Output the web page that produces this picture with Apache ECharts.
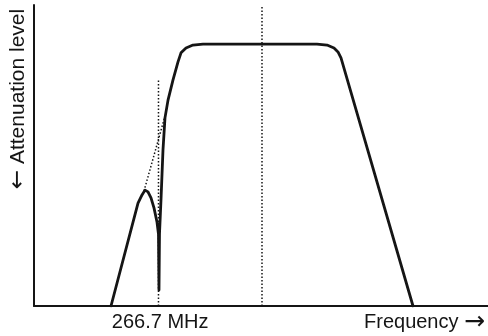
<!DOCTYPE html>
<html>
<head>
<meta charset="utf-8">
<script src="https://cdn.jsdelivr.net/npm/echarts@6/dist/echarts.min.js"></script>
<style>
html,body{margin:0;padding:0;background:#fff;}
#chart{width:488px;height:336px;}
</style>
</head>
<body>
<div id="chart"></div>
<script>
// Normalized frequency (0-100) and attenuation (0-100)
const responseX = [16.96, 22.91, 23.79, 24.45, 25.11, 25.77, 26.43, 27.09, 27.42, 27.53, 27.64, 27.97, 28.41, 28.85, 29.52, 30.62, 31.72, 32.38, 33.48, 35.02, 37.22, 62.33, 64.54, 66.08, 66.96, 67.62, 83.48];
const responseY = [0, 34.2, 36.9, 38.5, 37.9, 35.9, 32.6, 27.9, 23.9, 5.3, 23.9, 35.2, 51.8, 62.5, 68.4, 75.1, 81.1, 84.1, 85.7, 86.7, 87.0, 87.0, 86.7, 85.7, 84.4, 82.4, 0];
const centerLineX = [50.22, 50.22];
const centerLineY = [0, 100];
const notchLineX = [27.42, 27.42];
const notchLineY = [0, 75.1];
const extrapX = [24.23, 28.85];
const extrapY = [38.2, 63.1];
const tickLabelAt = [27.8];
const tickLabels = ['266.7 MHz'];
const xTitle = 'Frequency {a|\u2192}';
const yTitle = '{a|\u2190} Attenuation level';

const pair = (xs, ys) => xs.map((x, i) => [x, ys[i]]);
const font = "'Liberation Sans', Arial, Helvetica, sans-serif";
const arrowFont = "'DejaVu Sans', sans-serif";
const ink = '#151515';

const chart = echarts.init(document.getElementById('chart'), null, {renderer: 'canvas'});
chart.setOption({
  animation: false,
  backgroundColor: '#ffffff',
  grid: {left: 34, right: 0, top: 5, bottom: 30},
  xAxis: {
    type: 'value', min: 0, max: 100,
    axisLine: {show: true, lineStyle: {color: ink, width: 2}},
    axisTick: {show: false},
    splitLine: {show: false},
    axisLabel: {
      customValues: tickLabelAt,
      formatter: (v) => tickLabels[tickLabelAt.indexOf(v)] || '',
      color: ink, fontSize: 20, fontFamily: font, margin: 6
    },
    name: xTitle,
    nameLocation: 'end',
    nameGap: -3,
    nameTextStyle: {
      color: ink, fontSize: 20, fontFamily: font, align: 'right', verticalAlign: 'top', padding: [6, 0, 0, 0],
      rich: {a: {color: ink, fontSize: 25, fontFamily: arrowFont, lineHeight: 20}}
    }
  },
  yAxis: {
    type: 'value', min: 0, max: 100,
    axisLine: {show: true, lineStyle: {color: ink, width: 2}},
    axisTick: {show: false},
    splitLine: {show: false},
    axisLabel: {show: false}
  },
  graphic: [{
    type: 'text',
    x: 18, y: 99,
    rotation: Math.PI / 2,
    style: {
      text: yTitle, fill: ink, font: '21px ' + font, align: 'center', verticalAlign: 'middle',
      rich: {a: {fill: ink, font: '23px ' + arrowFont, lineHeight: 21}}
    }
  }],
  series: [
    {type: 'line', data: pair(centerLineX, centerLineY), symbol: 'none', silent: true,
     lineStyle: {color: ink, width: 1.5, type: [1.5, 2]}},
    {type: 'line', data: pair(notchLineX, notchLineY), symbol: 'none', silent: true,
     lineStyle: {color: ink, width: 1.5, type: [1.5, 2]}},
    {type: 'line', data: pair(extrapX, extrapY), symbol: 'none', silent: true,
     lineStyle: {color: ink, width: 1.5, type: [1.5, 2]}},
    {type: 'line', data: pair(responseX, responseY), symbol: 'none', silent: true,
     lineStyle: {color: ink, width: 2.8, join: 'round', cap: 'round'}}
  ]
});
</script>
</body>
</html>
